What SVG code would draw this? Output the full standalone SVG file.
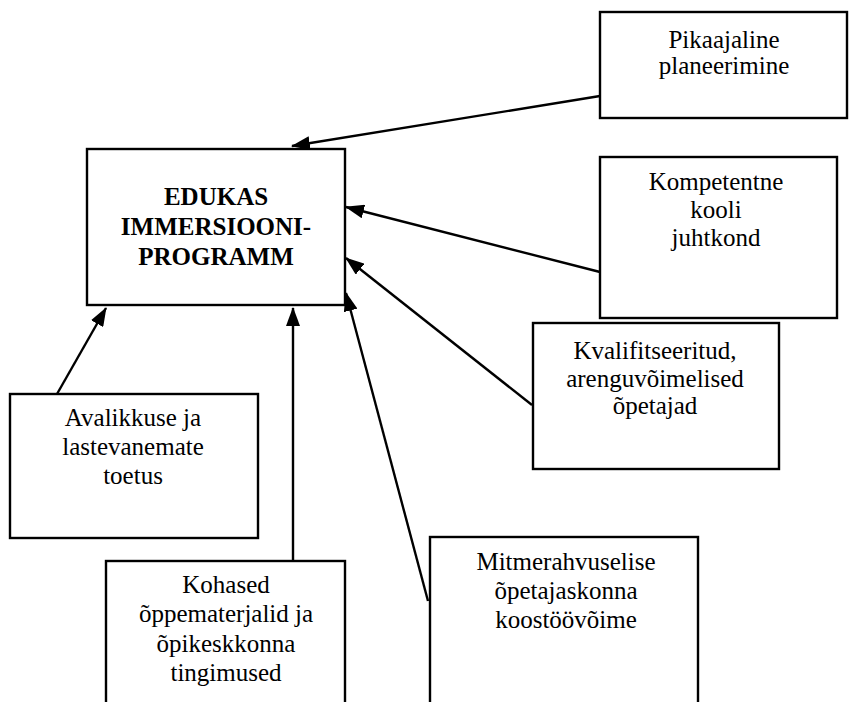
<svg xmlns="http://www.w3.org/2000/svg" width="849" height="702" viewBox="0 0 849 702">
  <style>
    .box { fill: #ffffff; stroke: #000000; stroke-width: 2.4; }
    .t { font-family: "Liberation Serif", "Times New Roman", serif; font-size: 25px; fill: #000000; text-anchor: middle; }
    .b { font-weight: bold; }
    .c { stroke: #000000; stroke-width: 2.4; fill: none; marker-end: url(#arr); }
  </style>
  <defs>
    <marker id="arr" markerUnits="userSpaceOnUse" viewBox="0 0 19 14" markerWidth="19" markerHeight="14" refX="18" refY="7" orient="auto">
      <path d="M0,0 L19,7 L0,14 Z" fill="#000000"/>
    </marker>
  </defs>
  <rect width="849" height="702" fill="#ffffff"/>

  <g id="connectors">
    <line class="c" x1="600" y1="96" x2="292" y2="146"/>
    <line class="c" x1="600" y1="272" x2="346" y2="207"/>
    <line class="c" x1="532" y1="405" x2="346" y2="258"/>
    <line class="c" x1="428" y1="601" x2="346" y2="293"/>
    <line class="c" x1="293" y1="561" x2="293" y2="308"/>
    <line class="c" x1="57" y1="394" x2="106" y2="308"/>
  </g>

  <g id="central">
    <rect class="box" x="87" y="149" width="258" height="156"/>
    <text class="t b" x="216" y="205">EDUKAS</text>
    <text class="t b" x="216" y="235">IMMERSIOONI-</text>
    <text class="t b" x="216" y="265">PROGRAMM</text>
  </g>

  <g id="pikaajaline">
    <rect class="box" x="600" y="12" width="247" height="106"/>
    <text class="t" x="724" y="48">Pikaajaline</text>
    <text class="t" x="724" y="74">planeerimine</text>
  </g>

  <g id="kompetentne">
    <rect class="box" x="600" y="157" width="237" height="161"/>
    <text class="t" x="716" y="190">Kompetentne</text>
    <text class="t" x="716" y="218">kooli</text>
    <text class="t" x="716" y="246">juhtkond</text>
  </g>

  <g id="kvalifitseeritud">
    <rect class="box" x="533" y="323" width="246" height="146"/>
    <text class="t" x="655" y="359">Kvalifitseeritud,</text>
    <text class="t" x="655" y="387">arenguvõimelised</text>
    <text class="t" x="655" y="414">õpetajad</text>
  </g>

  <g id="avalikkuse">
    <rect class="box" x="10" y="394" width="248" height="144"/>
    <text class="t" x="133" y="426">Avalikkuse ja</text>
    <text class="t" x="133" y="455">lastevanemate</text>
    <text class="t" x="133" y="484">toetus</text>
  </g>

  <g id="kohased">
    <rect class="box" x="106" y="561" width="239" height="160"/>
    <text class="t" x="226" y="593">Kohased</text>
    <text class="t" x="226" y="622">õppematerjalid ja</text>
    <text class="t" x="226" y="652">õpikeskkonna</text>
    <text class="t" x="226" y="681">tingimused</text>
  </g>

  <g id="mitmerahvuselise">
    <rect class="box" x="430" y="537" width="268" height="185"/>
    <text class="t" x="566" y="570">Mitmerahvuselise</text>
    <text class="t" x="566" y="599">õpetajaskonna</text>
    <text class="t" x="566" y="628">koostöövõime</text>
  </g>
</svg>
